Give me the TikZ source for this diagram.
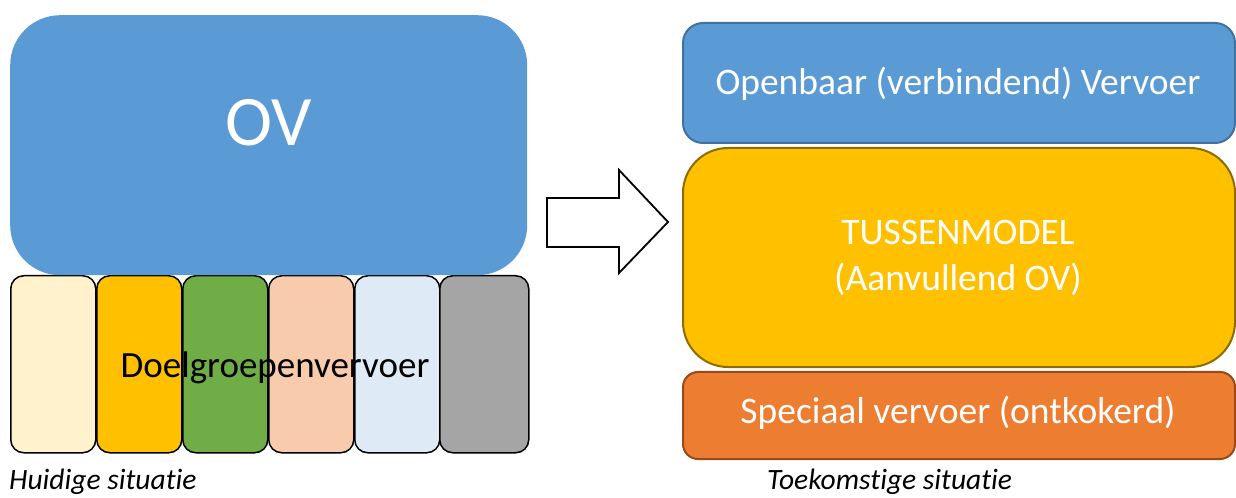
\documentclass[tikz,border=0pt]{standalone}
\usepackage{fontspec}
\setmainfont{Carlito}[Ligatures=NoCommon]
\definecolor{ovblue}{HTML}{5B9BD5}
\definecolor{ovblueline}{HTML}{41719C}
\definecolor{c1}{HTML}{FFF2CC}
\definecolor{c2}{HTML}{FFC000}
\definecolor{c3}{HTML}{70AD47}
\definecolor{c4}{HTML}{F8CBAD}
\definecolor{c5}{HTML}{DEEBF7}
\definecolor{c6}{HTML}{A5A5A5}
\definecolor{goldline}{HTML}{8C6D00}
\definecolor{orangefill}{HTML}{ED7D31}
\definecolor{orangeline}{HTML}{9A4A1A}
\begin{document}
\begin{tikzpicture}[x=1bp,y=-1bp,
  small/.style={draw=black, line width=1.5bp, fill=#1, rounded corners=13bp,
    minimum height=177bp, inner sep=0pt, anchor=north west},
  bigbox/.style={inner sep=0pt, anchor=north west, line width=2bp, minimum width=552bp},
  wtext/.style={text=white, inner sep=0pt, align=center, font=\fontsize{37.5bp}{46bp}\selectfont},
  caption/.style={anchor=west, inner sep=0pt, font=\fontsize{29.5bp}{36bp}\selectfont\itshape}
]
\useasboundingbox (0,0) rectangle (1236,498);
% small boxes
\node[small=c1, minimum width=85bp] (b1) at (10,275) {};
\node[small=c2, minimum width=85bp] (b2) at (96,275) {};
\node[small=c3, minimum width=85bp] (b3) at (182,275) {};
\node[small=c4, minimum width=85bp] (b4) at (268,275) {};
\node[small=c5, minimum width=85bp] (b5) at (354,275) {};
\node[small=c6, minimum width=89bp] (b6) at (439,275) {};
\node[inner sep=0pt, font=\fontsize{37bp}{44bp}\selectfont] (dg) at (275,368) {Doelgroepenvervoer};
% OV
\node[fill=ovblue, rounded corners=50bp, minimum width=517bp, minimum height=260bp,
  inner sep=0pt, anchor=north west] (ov) at (10,15) {};
\node[text=white, font=\fontsize{71bp}{80bp}\selectfont, inner sep=0pt] (ovt) at (269,123) {OV};
% arrow
\draw[line width=1.8bp, fill=white, line join=miter]
  (547,198) -- (619,198) -- (619,170) -- (668,222) -- (619,273) -- (619,247) -- (547,247) -- cycle;
% right side
\node[bigbox, draw=ovblueline, fill=ovblue, rounded corners=20bp,
  minimum height=120bp] (pub) at (682,22) {};
\node[wtext] (pubt) at (958,84) {Openbaar (verbindend) Vervoer};
\node[bigbox, draw=goldline, fill=c2, rounded corners=45bp,
  minimum height=219bp] (tus) at (682,147) {};
\node[wtext] (tust) at (958,258) {TUSSENMODEL\\(Aanvullend OV)};
\node[bigbox, draw=orangeline, fill=orangefill, rounded corners=15bp,
  minimum height=87bp] (spe) at (682,371) {};
\node[wtext] (spet) at (958,413) {Speciaal vervoer (ontkokerd)};
% captions
\node[caption] (hs) at (9,482) {Huidige situatie};
\node[caption] (ts) at (767,482) {Toekomstige situatie};
\end{tikzpicture}
\end{document}
